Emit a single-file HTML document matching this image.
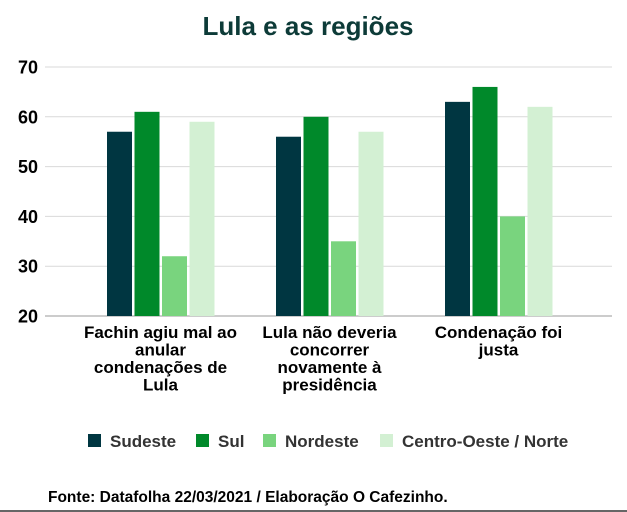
<!DOCTYPE html>
<html><head><meta charset="utf-8"><style>
body{margin:0;background:#fff;font-family:"Liberation Sans",Arial,sans-serif;}
#wrap{position:relative;width:627px;height:512px;overflow:hidden;}
</style></head><body>
<div id="wrap">
<svg id="chart" width="627" height="512" xmlns="http://www.w3.org/2000/svg">
<text x="308" y="35" text-anchor="middle" font-size="26" font-weight="bold" fill="#0d3b38" font-family="Liberation Sans, sans-serif">Lula e as regiões</text>
<g id="grid"></g><g id="bars"></g><g id="xlabels"></g><g id="legend"></g>
<text x="48" y="502" font-size="15.5" font-weight="bold" fill="#000" font-family="Liberation Sans, sans-serif">Fonte: Datafolha 22/03/2021 / Elaboração O Cafezinho.</text>
<line x1="0" y1="511" x2="627" y2="511" stroke="#333" stroke-width="1.5"/>
</svg>
</div>
<script>
const categories=[["Fachin agiu mal ao","anular","condenações de","Lula"],["Lula não deveria","concorrer","novamente à","presidência"],["Condenação foi","justa"]];
const seriesNames=["Sudeste","Sul","Nordeste","Centro-Oeste / Norte"];
const sudeste=[57,56,63];
const sul=[61,60,66];
const nordeste=[32,35,40];
const centroOeste=[59,57,62];
const yTicks=[20,30,40,50,60,70];
const colors=["#003641","#00892a","#79d47e","#d3f0d3"];
const series=[sudeste,sul,nordeste,centroOeste];
const NS="http://www.w3.org/2000/svg";
const yMin=20,yMax=70,yTop=67,yBot=316;
function y(v){return yBot-(v-yMin)/(yMax-yMin)*(yBot-yTop);}
const x0=76,band=169;
function xc(i){return x0+band*(i+0.5);}
function mk(tag,attrs,parent){const e=document.createElementNS(NS,tag);for(const k in attrs)e.setAttribute(k,attrs[k]);parent.appendChild(e);return e;}
const grid=document.getElementById('grid');
yTicks.forEach(t=>{
 const l=mk('line',{x1:45,x2:612,y1:y(t),y2:y(t),stroke:t===20?'#999':'#d9d9d9','stroke-width':1},grid);
 
 
 const tx=mk('text',{x:38,y:y(t)+6.5,'text-anchor':'end','font-size':18,'font-weight':'bold',fill:'#000'},grid);
 tx.textContent=t;
 
 
});
const bars=document.getElementById('bars');
const bw=25,step=27.5;
categories.forEach((c,i)=>{
 series.forEach((s,j)=>{
  const bx=xc(i)-2*step+j*step+1.5;
  const r=mk('rect',{x:bx,y:y(s[i]),width:bw,height:yBot-y(s[i]),fill:colors[j]},bars);
  
  
 });
 const g=document.getElementById('xlabels');
 c.forEach((line,k)=>{
  const t=mk('text',{x:xc(i),y:338+k*17.5,'text-anchor':'middle','font-size':17,'font-weight':'bold',fill:'#000'},g);
  t.textContent=line;
  
  
 });
});
const lg=document.getElementById('legend');
const lx=[88,196,263,380];
seriesNames.forEach((n,j)=>{
 const r=mk('rect',{x:lx[j],y:434,width:13,height:13,fill:colors[j]},lg);
 
 
 const t=mk('text',{x:lx[j]+22,y:447,'font-size':17,'font-weight':'bold',fill:'#333'},lg);
 t.textContent=n;
 
 
});
</script>
</body></html>
